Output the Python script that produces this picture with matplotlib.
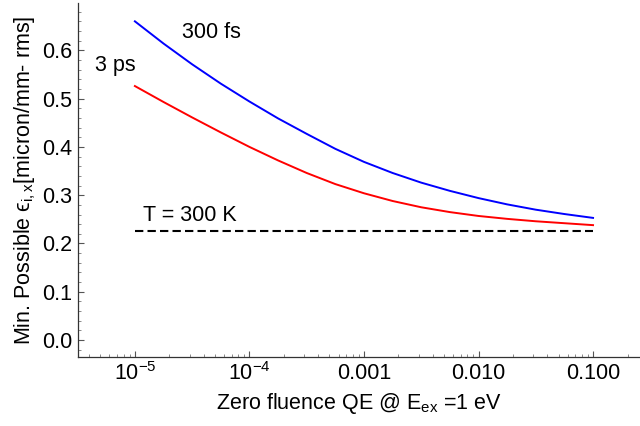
import matplotlib
matplotlib.use("Agg")
import matplotlib.pyplot as plt
from matplotlib.ticker import FixedLocator, NullFormatter, MultipleLocator

plt.rcParams['font.family'] = ['Liberation Sans', 'DejaVu Sans']
plt.rcParams['mathtext.fontset'] = 'custom'
plt.rcParams['mathtext.rm'] = 'Liberation Sans'
plt.rcParams['mathtext.it'] = 'Liberation Sans:italic'

# log10 of zero-fluence QE, quarter-decade steps from -5 to -1
log_qe = [-5.0, -4.75, -4.5, -4.25, -4.0, -3.75, -3.5, -3.25, -3.0,
          -2.75, -2.5, -2.25, -2.0, -1.75, -1.5, -1.25, -1.0]
emit_300fs = [0.660, 0.614, 0.571, 0.531, 0.494, 0.459, 0.427, 0.396, 0.369,
              0.346, 0.326, 0.309, 0.294, 0.281, 0.270, 0.261, 0.253]
emit_3ps = [0.526, 0.493, 0.461, 0.430, 0.400, 0.372, 0.346, 0.323, 0.304,
            0.288, 0.275, 0.265, 0.257, 0.251, 0.246, 0.242, 0.238]
thermal = 0.2255
xtick_vals = [1e-5, 1e-4, 1e-3, 1e-2, 1e-1]
xtick_labels = [r'$10^{-5}$', r'$10^{-4}$', '0.001', '0.010', '0.100']
ytick_vals = [0.0, 0.1, 0.2, 0.3, 0.4, 0.5, 0.6]

qe = [10.0 ** v for v in log_qe]
FS = 15.5

fig = plt.figure(figsize=(6.4, 4.26), dpi=100)
ax = fig.add_axes([0.122, 0.162, 0.878, 0.831])

ax.plot(qe, emit_300fs, color='#0000ff', lw=1.4)
ax.plot(qe, emit_3ps, color='#ff0000', lw=1.4)
ax.plot([qe[0], qe[-1]], [thermal, thermal], color='black', lw=1.5, ls=(0, (4, 2)))

ax.set_xscale('log')
ax.set_xlim(10**-5.496, 10**-0.59)
ax.set_ylim(-0.035, 0.698)

ax.xaxis.set_major_locator(FixedLocator(xtick_vals))
ax.set_xticklabels(xtick_labels)
minors = [m * 10.0**e for e in range(-6, 1) for m in range(2, 10)]
ax.xaxis.set_minor_locator(FixedLocator(minors))
ax.xaxis.set_minor_formatter(NullFormatter())
ax.yaxis.set_major_locator(FixedLocator(ytick_vals))
ax.set_yticklabels([f'{v:.1f}' for v in ytick_vals])
ax.yaxis.set_minor_locator(MultipleLocator(0.02))

for s in ['top', 'right']:
    ax.spines[s].set_visible(False)
for s in ['left', 'bottom']:
    ax.spines[s].set_color('#333333')
    ax.spines[s].set_linewidth(0.9)

ax.tick_params(which='major', direction='in', length=4, width=0.8, color='#555555', labelsize=FS, pad=4)
ax.tick_params(which='minor', direction='in', length=2, width=0.6, color='#777777')

ax.set_xlabel(r'Zero fluence QE @ E$_{\rm ex}$ =1 eV', fontsize=FS, labelpad=4)
ax.set_ylabel('Min. Possible \u03f5$_{\\rm i,x}$[micron/mm- rms]', fontsize=FS, labelpad=3)

ax.text(4.7e-5, 0.636, '300 fs', fontsize=FS, ha='center', va='center')
ax.text(6.8e-6, 0.569, '3 ps', fontsize=FS, ha='center', va='center')
ax.text(3.0e-5, 0.257, 'T = 300 K', fontsize=FS, ha='center', va='center')

fig.savefig('out.png', dpi=100)
